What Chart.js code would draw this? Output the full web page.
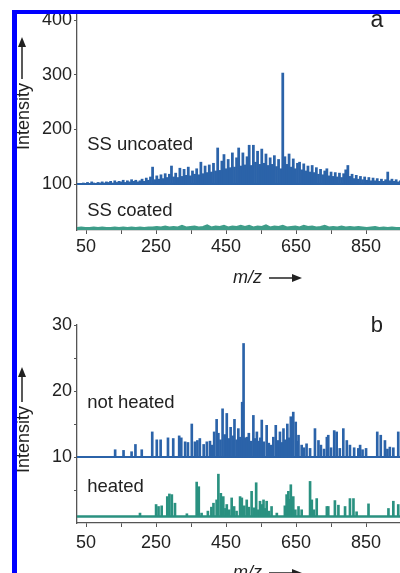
<!DOCTYPE html>
<html lang="fr">
<head>
<meta charset="utf-8">
<title>Spectres de masse</title>
<script src="https://cdn.jsdelivr.net/npm/chart.js@4.4.1/dist/chart.umd.min.js"></script>
<style>
  html, body { margin: 0; padding: 0; background: #fff; }
  body { width: 400px; height: 573px; overflow: hidden; position: relative; }
  canvas { position: absolute; left: 0; }
  #panneauA { top: 0; }
  #panneauB { top: 290px; }
  .cadre { position: absolute; background: #0000ff; }
  .masque { position: absolute; background: #fff; }
</style>
</head>
<body>
<canvas id="panneauA" width="400" height="290"></canvas>
<canvas id="panneauB" width="400" height="300"></canvas>
<div class="masque" style="left:0;top:0;width:400px;height:10px"></div>
<div class="masque" style="left:0;top:0;width:12px;height:573px"></div>
<div class="cadre" style="left:12px;top:10px;width:388px;height:4px"></div>
<div class="cadre" style="left:12px;top:10px;width:5px;height:563px"></div>
<script>
// ==========================================================
// DONNEES
// ==========================================================
const MZ_MIN = 24;
const MZ_MAX = 947;

// axe m/z commun aux deux panneaux
const ticksX = [50, 150, 250, 350, 450, 550, 650, 750, 850];
const labelsX = ['50', '', '250', '', '450', '', '650', '', '850'];

// axes des intensites
const ticksYA = [100, 200, 300, 400];
const labelsYA = ['100', '200', '300', '400'];
const ticksYB = [5, 10, 15, 20, 25, 30];
const labelsYB = ['', '10', '', '20', '', '30'];

// SS uncoated : un point tous les 6 m/z a partir de 24 (ligne de base 100)
const baseNonRevetu = 100;
const debutNonRevetu = 24;
const pasNonRevetu = 6;
const intensiteNonRevetu = [
  100,
  101, 100, 102, 101, 103, 101, 104, 102, 101, 103, 102, 104,
  102, 104, 103, 105, 102, 106, 103, 105, 104, 107, 103, 106, 104, 108, 105, 107, 104,
  106, 109, 105, 111, 107, 113, 131, 108, 115, 109, 117, 110, 119, 112, 118, 133, 113,
  120, 112, 129, 114, 127, 116, 131, 115, 124, 118, 128, 117, 140, 119, 133, 121,
  135, 122, 138, 124, 166, 125, 142, 154, 128, 145, 130, 157, 131, 148, 166, 133, 157,
  135, 150, 171, 134, 171, 140, 160, 136, 164, 138, 155, 134, 148, 136, 152, 132, 145,
  128, 303, 150, 136,
  155, 131, 146, 128, 138, 140, 126, 137, 124, 133, 122, 134,
  121, 130, 118, 127, 117, 124, 128, 115, 122, 114, 121, 113, 120, 112, 119, 126, 134,
  114, 118, 110, 116, 109, 114, 108, 113, 107, 112, 106, 111, 106, 110, 105, 109, 105,
  108, 122, 106, 109, 105, 108, 104, 106
];

// SS coated : un point tous les 12 m/z a partir de 24
const debutRevetu = 24;
const pasRevetu = 12;
const intensiteRevetu = [
  20, 21, 20, 20, 21, 20, 21, 20, 20, 21, 20, 21, 20, 21, 20, 21, 20, 21, 21,
  22, 21, 23, 21, 22, 21, 24, 21, 22, 23, 21, 22, 25, 21, 23, 22, 24, 21, 23, 22, 24,
  22, 24, 21, 23, 22, 25, 21, 23, 22, 24, 21, 22, 23, 21, 24, 22, 23, 21, 22, 24, 21,
  22, 21, 23, 21, 22, 21, 22, 21, 20, 21, 22, 20, 21, 20, 21, 20, 20
];

// panneau b : not heated (ligne de base 10)
const baseNonChauffe = 10;
const mzNonChauffe = [
  133, 157, 180, 191, 209, 239, 252, 263, 284, 299, 316, 322, 333, 341, 352, 361, 368, 375,
  386, 395, 404, 410, 416, 423, 428, 434, 440, 446, 452, 458, 463, 469, 474, 480, 485, 490,
  496, 500, 505, 510, 515, 521, 528, 533, 538, 543, 548, 552, 558, 566, 572, 579, 585, 592,
  598, 604, 610, 614, 619, 625, 630, 635, 642, 649, 653, 657, 666, 672, 680, 690, 704, 714,
  721, 730, 738, 742, 750, 759, 766, 775, 785, 795, 804, 816, 828, 833, 840, 850, 882, 892,
  904, 911, 918, 928, 942
];
const intNonChauffe = [
  11.1, 11.0, 10.8, 11.9, 11.1, 13.8, 12.6, 12.6, 12.9, 12.8, 13.2, 12.9, 12.3, 12.2, 15.0, 12.3, 12.5, 12.8,
  11.9, 12.3, 12.4, 11.8, 13.8, 15.7, 13.6, 12.6, 17.3, 13.4, 16.6, 12.8, 14.5, 13.2, 15.7, 12.6, 14.3, 13.0,
  18.3, 27.2, 12.9, 13.0, 13.6, 12.4, 16.3, 12.8, 13.8, 12.4, 12.9, 15.6, 12.3, 14.8, 12.1, 11.8, 13.0, 14.8,
  12.5, 13.8, 12.2, 14.3, 12.6, 15.0, 12.9, 16.1, 16.8, 15.3, 12.4, 13.3, 11.8, 11.4, 12.0, 11.3, 14.3, 12.5,
  11.8, 11.2, 13.0, 13.3, 11.4, 14.0, 13.8, 11.3, 14.3, 12.5, 11.8, 11.4, 11.3, 11.8, 11.1, 11.3, 13.8, 13.3,
  12.5, 11.2, 11.5, 11.4, 13.8
];

// panneau b : heated (ligne de base 1)
const baseChauffe = 1;
const mzChauffe = [
  204, 250, 257, 266, 282, 288, 295, 304, 338, 366, 372, 380, 398, 408, 414, 423, 428, 435,
  442, 448, 452, 459, 466, 473, 480, 490, 495, 502, 509, 515, 523, 530, 536, 541, 547, 552,
  557, 562, 566, 573, 580, 595, 618, 623, 628, 632, 635, 642, 648, 657, 666, 690, 695, 701,
  709, 738, 742, 761, 771, 790, 804, 814, 823, 857, 914, 928, 942
];
const intChauffe = [
  1.5, 2.8, 2.5, 2.6, 4.0, 4.4, 4.3, 3.0, 1.4, 6.2, 5.5, 1.5, 1.8, 2.4, 3.0, 3.5, 7.4, 4.5,
  4.0, 2.2, 2.8, 2.0, 3.8, 2.5, 1.8, 4.0, 3.8, 2.6, 3.5, 2.4, 4.8, 2.3, 6.1, 2.0, 3.3, 2.8,
  3.5, 2.2, 3.3, 1.8, 2.5, 1.5, 2.6, 4.3, 4.8, 3.6, 5.8, 4.0, 2.0, 2.5, 2.0, 6.3, 3.5, 2.0,
  3.7, 2.5, 2.5, 3.4, 2.7, 2.5, 3.7, 3.7, 1.7, 2.9, 2.2, 3.3, 2.8
];

// ==========================================================
// STYLES
// ==========================================================
const BLEU = '#2b63a9';
const VERT = '#2a9180';
const VERT_CLAIR = '#3e9d89';
const COULEUR_TEXTE = '#222';
const COULEUR_AXE = '#555';
const POLICE = "'Liberation Sans', Arial, sans-serif";

Chart.defaults.font.family = POLICE;
Chart.defaults.color = COULEUR_TEXTE;

// fleche pleine (titres des axes)
function dessinerFleche(ctx, x0, y0, x1, y1) {
  const a = Math.atan2(y1 - y0, x1 - x0);
  const lg = 10, dl = 4;
  const bx = x1 - lg * Math.cos(a), by = y1 - lg * Math.sin(a);
  ctx.strokeStyle = ctx.fillStyle;
  ctx.lineWidth = 1.5;
  ctx.beginPath();
  ctx.moveTo(x0, y0);
  ctx.lineTo(bx, by);
  ctx.stroke();
  ctx.beginPath();
  ctx.moveTo(x1, y1);
  ctx.lineTo(bx - dl * Math.sin(a), by + dl * Math.cos(a));
  ctx.lineTo(bx + dl * Math.sin(a), by - dl * Math.cos(a));
  ctx.closePath();
  ctx.fill();
}

// textes dans le graphique + titres d'axes avec fleches
const pluginTextes = {
  id: 'textes',
  afterDraw(chart, args, opts) {
    const ctx = chart.ctx;
    const { x, y } = chart.scales;
    ctx.save();
    ctx.fillStyle = COULEUR_TEXTE;
    ctx.textBaseline = 'middle';
    opts.etiquettes.forEach(e => {
      ctx.font = e.police;
      ctx.textAlign = e.align || 'left';
      ctx.fillText(e.texte, x.getPixelForValue(e.mz), y.getPixelForValue(e.val));
    });

    // titre vertical "Intensity ->"
    const tv = opts.titreY;
    ctx.save();
    ctx.translate(tv.x, tv.bas);
    ctx.rotate(-Math.PI / 2);
    ctx.font = '18px ' + POLICE;
    ctx.textAlign = 'left';
    ctx.textBaseline = 'alphabetic';
    ctx.fillText('Intensity', 0, 0);
    const lv = ctx.measureText('Intensity').width;
    dessinerFleche(ctx, lv + 4, -7, lv + 4 + tv.fleche, -7);
    ctx.restore();

    // titre horizontal "m/z ->"
    const th = opts.titreX;
    ctx.font = 'italic 18px ' + POLICE;
    ctx.textAlign = 'left';
    ctx.textBaseline = 'middle';
    ctx.fillText('m/z', th.x, th.y);
    const lh = ctx.measureText('m/z').width;
    dessinerFleche(ctx, th.x + lh + 7, th.y, th.x + lh + 40, th.y);
    ctx.restore();
  }
};

function axeX(hauteur, ecart) {
  return {
    type: 'linear',
    offset: false,
    min: MZ_MIN,
    max: MZ_MAX,
    afterBuildTicks: s => { s.ticks = ticksX.map(v => ({ value: v })); },
    afterFit: s => { s.height = hauteur; },
    ticks: {
      autoSkip: false, maxRotation: 0, padding: ecart,
      color: COULEUR_TEXTE, font: { size: 18 },
      callback: (v, i) => labelsX[i]
    },
    grid: { drawOnChartArea: false, offset: false, tickLength: 4, color: COULEUR_AXE },
    border: { color: COULEUR_AXE, width: 1.3 }
  };
}

function axeY(min, max, ticks, labels) {
  return {
    min: min,
    max: max,
    afterBuildTicks: s => { s.ticks = ticks.map(v => ({ value: v })); },
    afterFit: s => { s.width = 77; },
    ticks: {
      padding: 2, color: COULEUR_TEXTE, font: { size: 18 },
      callback: (v, i) => labels[i]
    },
    grid: { drawOnChartArea: false, tickLength: 3, color: COULEUR_AXE },
    border: { color: COULEUR_AXE, width: 1.3 }
  };
}

// ==========================================================
// 1. PANNEAU a : SS uncoated / SS coated
// ==========================================================
const barresNonRevetu = intensiteNonRevetu.map((v, i) => ({ x: debutNonRevetu + i * pasNonRevetu, y: [baseNonRevetu, v] }));
const pointsRevetu = intensiteRevetu.map((v, i) => ({ x: debutRevetu + i * pasRevetu, y: v }));

new Chart(document.getElementById('panneauA'), {
  type: 'bar',
  data: {
    datasets: [
      {
        label: 'SS uncoated', data: barresNonRevetu,
        backgroundColor: BLEU, barThickness: 2.1, grouped: false, borderWidth: 0
      },
      {
        type: 'line', label: 'base uncoated',
        data: [{ x: MZ_MIN, y: baseNonRevetu }, { x: MZ_MAX, y: baseNonRevetu }],
        borderColor: BLEU, borderWidth: 2, pointRadius: 0
      },
      {
        type: 'line', label: 'SS coated', data: pointsRevetu,
        borderColor: VERT_CLAIR, backgroundColor: VERT_CLAIR, borderWidth: 1.5,
        pointRadius: 0, tension: 0, fill: 'start'
      }
    ]
  },
  options: {
    responsive: false,
    animation: false,
    layout: { padding: { top: 14, right: 0, left: 0, bottom: 0 } },
    scales: {
      x: axeX(60, 2),
      y: axeY(16, 411, ticksYA, labelsYA)
    },
    plugins: {
      legend: { display: false },
      tooltip: { enabled: false },
      textes: {
        etiquettes: [
          { texte: 'SS uncoated', mz: 53, val: 171, police: '18.5px ' + POLICE },
          { texte: 'SS coated', mz: 53, val: 51, police: '18.5px ' + POLICE },
          { texte: 'a', mz: 881, val: 398, police: '23px ' + POLICE, align: 'center' }
        ],
        titreY: { x: 29, bas: 150, fleche: 42 },
        titreX: { x: 233, y: 278 }
      }
    }
  },
  plugins: [pluginTextes]
});

// ==========================================================
// 2. PANNEAU b : not heated / heated
// ==========================================================
const barresNonChauffe = mzNonChauffe.map((m, i) => ({ x: m, y: [baseNonChauffe, intNonChauffe[i]] }));
const barresChauffe = mzChauffe.map((m, i) => ({ x: m, y: [baseChauffe, intChauffe[i]] }));

new Chart(document.getElementById('panneauB'), {
  type: 'bar',
  data: {
    datasets: [
      {
        label: 'not heated', data: barresNonChauffe,
        backgroundColor: BLEU, barThickness: 2, grouped: false, borderWidth: 0
      },
      {
        label: 'heated', data: barresChauffe,
        backgroundColor: VERT, barThickness: 2, grouped: false, borderWidth: 0
      },
      {
        type: 'line', label: 'base not heated',
        data: [{ x: MZ_MIN, y: baseNonChauffe }, { x: MZ_MAX, y: baseNonChauffe }],
        borderColor: BLEU, borderWidth: 2, pointRadius: 0
      },
      {
        type: 'line', label: 'base heated',
        data: [{ x: MZ_MIN, y: baseChauffe }, { x: MZ_MAX, y: baseChauffe }],
        borderColor: VERT, borderWidth: 2.5, pointRadius: 0
      }
    ]
  },
  options: {
    responsive: false,
    animation: false,
    layout: { padding: { top: 35, right: 0, left: 0, bottom: 0 } },
    scales: {
      x: axeX(67, 5),
      y: axeY(0, 30, ticksYB, labelsYB)
    },
    plugins: {
      legend: { display: false },
      tooltip: { enabled: false },
      textes: {
        etiquettes: [
          { texte: 'not heated', mz: 53, val: 18.2, police: '18.5px ' + POLICE },
          { texte: 'heated', mz: 53, val: 5.45, police: '18.5px ' + POLICE },
          { texte: 'b', mz: 881, val: 29.9, police: '22px ' + POLICE, align: 'center' }
        ],
        titreY: { x: 29, bas: 183, fleche: 35 },
        titreX: { x: 233, y: 283 }
      }
    }
  },
  plugins: [pluginTextes]
});
</script>
</body>
</html>
